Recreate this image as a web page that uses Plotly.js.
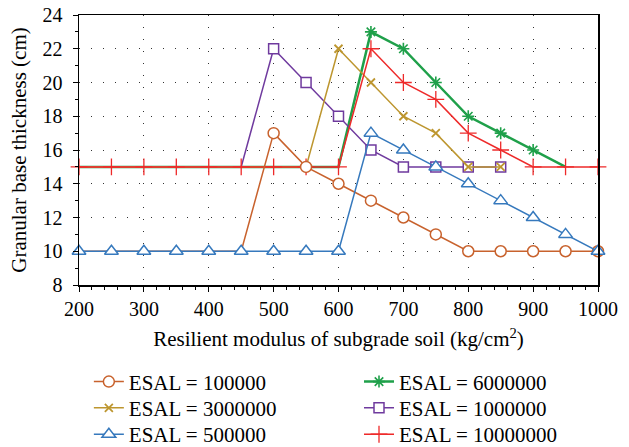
<!DOCTYPE html>
<html>
<head>
<meta charset="utf-8">
<script src="https://cdn.plot.ly/plotly-3.0.1.min.js"></script>
<style>html,body{margin:0;padding:0;background:#fff;}#chart{width:629px;height:447px;}</style>
</head>
<body>
<div id="chart"></div>
<script>
// Resilient modulus of subgrade soil (kg/cm2)
var modulus = [200,250,300,350,400,450,500,550,600,650,700,750,800,850,900,950,1000];
// Granular base thickness (cm) per ESAL
var esal100000   = [10,10,10,10,10,10,17,15,14,13,12,11,10,10,10,10,10];
var esal500000   = [10,10,10,10,10,10,10,10,10,17,16,15,14,13,12,11,10];
var esal1000000  = [15,15,15,15,15,15,22,20,18,16,15,15,15,15,null,null,null];
var esal3000000  = [15,15,15,15,15,15,15,15,22,20,18,17,15,15,null,null,null];
var esal6000000  = [15,15,15,15,15,15,15,15,15,23,22,20,18,17,16,15,null];
var esal10000000 = [15,15,15,15,15,15,15,15,15,22,20,19,17,16,15,15,15];
var seriesNames = ['ESAL = 100000','ESAL = 6000000','ESAL = 3000000','ESAL = 1000000','ESAL = 500000','ESAL = 10000000'];

var FONT = 'Liberation Serif';

function shownFrom(arr, first, skip) {
  var idx = [];
  for (var i = first; i < arr.length; i++) { if (arr[i] !== null && (!skip || skip.indexOf(i) < 0)) idx.push(i); }
  return idx;
}
var hide = {marker: {opacity: 0}};

var green = {
  x: modulus, y: esal6000000, name: seriesNames[1], legend: 'legend2', type: 'scatter', mode: 'lines+markers', cliponaxis: false,
  line: {color: '#1fa04a', width: 2.5},
  marker: {symbol: 'asterisk-open', size: 10, color: '#1fa04a', line: {color: '#1fa04a', width: 1.6}},
  selectedpoints: shownFrom(esal6000000, 9, [15]), unselected: hide
};
var purple = {
  x: modulus, y: esal1000000, name: seriesNames[3], legend: 'legend4', type: 'scatter', mode: 'lines+markers', cliponaxis: false,
  line: {color: '#6f3a9e', width: 1.5},
  marker: {symbol: 'square', size: 10, color: '#ffffff', line: {color: '#6f3a9e', width: 1.5}},
  selectedpoints: shownFrom(esal1000000, 6), unselected: hide
};
var gold = {
  x: modulus, y: esal3000000, name: seriesNames[2], legend: 'legend3', type: 'scatter', mode: 'lines+markers', cliponaxis: false,
  line: {color: '#bd962f', width: 1.5},
  marker: {symbol: 'x-thin-open', size: 8, color: '#bd962f', line: {color: '#bd962f', width: 1.8}},
  selectedpoints: shownFrom(esal3000000, 8), unselected: hide
};
var red = {
  x: modulus, y: esal10000000, name: seriesNames[5], legend: 'legend6', type: 'scatter', mode: 'lines+markers', cliponaxis: false,
  line: {color: '#ee2a2a', width: 1.5},
  marker: {symbol: 'cross-thin-open', size: 12, color: '#ee2a2a', line: {color: '#ee2a2a', width: 1.3}}
};
var orange = {
  x: modulus, y: esal100000, name: seriesNames[0], legend: 'legend', type: 'scatter', mode: 'lines+markers', cliponaxis: false,
  line: {color: '#c8622d', width: 1.5},
  marker: {symbol: 'circle', size: 11, color: '#ffffff', line: {color: '#c8622d', width: 1.5}},
  selectedpoints: shownFrom(esal100000, 6), unselected: hide
};
var blue = {
  x: modulus, y: esal500000, name: seriesNames[4], legend: 'legend5', type: 'scatter', mode: 'lines+markers', cliponaxis: false,
  line: {color: '#3679bd', width: 1.5},
  marker: {symbol: 'triangle-up', size: 12, color: '#ffffff', line: {color: '#3679bd', width: 1.5}}
};

var data = [green, purple, gold, red, orange, blue];

function legendAt(xp, yc) {
  return {
    orientation: 'h', x: xp, xanchor: 'left', y: yc, yanchor: 'middle',
    font: {family: FONT, size: 21, color: '#000'},
    bgcolor: 'rgba(0,0,0,0)'
  };
}
var colL = 0.019, colR = 0.5395;
var row1 = -0.359, row2 = -0.456, row3 = -0.554;

var layout = {
  width: 629, height: 447,
  margin: {l: 79, r: 31, t: 15, b: 162, autoexpand: false},
  paper_bgcolor: '#ffffff', plot_bgcolor: '#ffffff',
  font: {family: FONT, size: 20, color: '#000'},
  showlegend: true,
  xaxis: {
    range: [200, 1000], dtick: 100, tick0: 200,
    showline: true, linecolor: '#000', linewidth: 1.5, mirror: true,
    ticks: 'outside', ticklen: 5, tickwidth: 1, tickcolor: '#000',
    minor: {dtick: 20, ticks: 'outside', ticklen: 3, tickcolor: '#000', showgrid: false},
    showgrid: true, gridcolor: '#333', gridwidth: 1, griddash: '1px,11px',
    zeroline: false,
    tickfont: {family: FONT, size: 20, color: '#000'},
    title: {text: 'Resilient modulus of subgrade soil (kg/cm<sup>2</sup>)', font: {family: FONT, size: 21, color: '#000'}, standoff: 13}
  },
  yaxis: {
    range: [8, 24], dtick: 2, tick0: 8,
    showline: true, linecolor: '#000', linewidth: 1.5, mirror: true,
    ticks: 'outside', ticklen: 5, tickwidth: 1, tickcolor: '#000',
    minor: {dtick: 1, ticks: 'outside', ticklen: 3, tickcolor: '#000', showgrid: false},
    showgrid: true, gridcolor: '#333', gridwidth: 1, griddash: '1px,11px',
    zeroline: false,
    ticklabelstandoff: 6,
    tickfont: {family: FONT, size: 20, color: '#000'},
    title: {text: 'Granular base thickness (cm)', font: {family: FONT, size: 21, color: '#000'}, standoff: 10}
  },
  legend:  legendAt(colL, row1),
  legend2: legendAt(colR, row1),
  legend3: legendAt(colL, row2),
  legend4: legendAt(colR, row2),
  legend5: legendAt(colL, row3),
  legend6: legendAt(colR, row3)
};

Plotly.newPlot('chart', data, layout, {displayModeBar: false, staticPlot: true});
</script>
</body>
</html>
